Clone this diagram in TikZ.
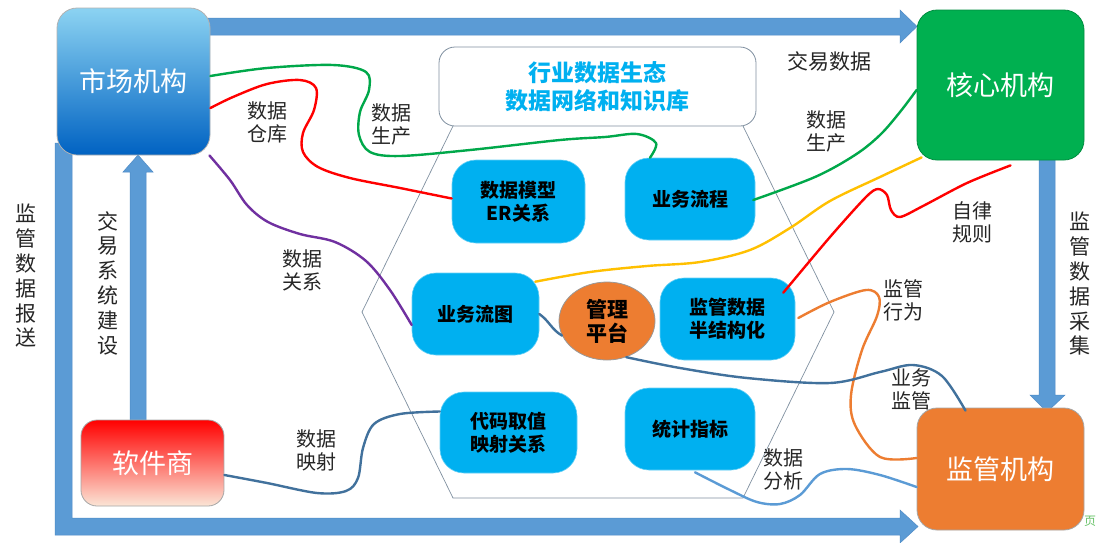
\documentclass[tikz,border=0pt]{standalone}
\usepackage{fontspec}
\setmainfont{Noto Sans CJK SC}
\usetikzlibrary{shapes.geometric,calc}
\definecolor{arrowblue}{HTML}{5B9BD5}
\definecolor{arrowedge}{HTML}{4F8BC6}
\definecolor{cyanfill}{HTML}{00B0F0}
\definecolor{coregreen}{HTML}{00B050}
\definecolor{regorange}{HTML}{ED7D31}
\definecolor{steel}{HTML}{41719C}
\definecolor{lblue}{HTML}{5B9BD5}
\definecolor{ygold}{HTML}{FFC000}
\definecolor{purp}{HTML}{7030A0}
\definecolor{redc}{HTML}{FF0000}
\definecolor{greenc}{HTML}{00A84A}
\definecolor{mktTop}{HTML}{8CD3F2}
\definecolor{mktMid}{HTML}{1CB8E8}
\definecolor{mktBot}{HTML}{0062C2}
\definecolor{softTop}{HTML}{FF0000}
\definecolor{softMid}{HTML}{F8704E}
\definecolor{softBot}{HTML}{FBE5D6}
\definecolor{hexgray}{HTML}{8090A0}
\begin{document}
\begin{tikzpicture}[x=1pt,y=-1pt,
  bigbox/.style={rounded corners=20pt, text=white, font=\fontsize{27}{32}\selectfont,
    inner sep=0pt, draw=gray!60, line width=0.8pt},
  innerbox/.style={rounded corners=24pt, fill=cyanfill, draw=cyanfill!60!white,
    line width=0.6pt, font=\bfseries\fontsize{19}{23}\selectfont, align=center, inner sep=0pt},
  lbl/.style={font=\fontsize{20}{23}\selectfont, align=center, text=black!85},
  vlbl/.style={font=\fontsize{21}{24.8}\selectfont, align=center, text=black!85},
  link/.style={line width=2.4pt, line cap=round},
  fatarrow/.style={fill=arrowblue, draw=arrowedge, line width=0.5pt}]
\useasboundingbox (0,0) rectangle (1096,542);
\fill[white] (0,0) rectangle (1096,542);

% thick blue arrows
\draw[fatarrow] (200,18) -- (900,18) -- (900,10) -- (917,26.5) -- (900,43) -- (900,35) -- (200,35) -- cycle;
\draw[fatarrow] (55,143) -- (72,143) -- (72,518) -- (900,518) -- (900,510) -- (918,526.5) -- (900,543) -- (900,535) -- (55,535) -- cycle;
\draw[fatarrow] (130,425) -- (130,172) -- (123,172) -- (138,155) -- (153,172) -- (146,172) -- (146,425) -- cycle;
\draw[fatarrow] (1039,150) -- (1039,395) -- (1030,395) -- (1047,412) -- (1065,395) -- (1055,395) -- (1055,150) -- cycle;

% hexagon
\draw[hexgray, line width=0.7pt] (453,126) -- (362,312) -- (453,498) -- (743,498) -- (834,312) -- (743,126);

% big nodes
\node[bigbox, minimum width=153pt, minimum height=147pt, top color=mktTop, middle color=mktMid, bottom color=mktBot] (mkt) at (133.5,81.5) {市场机构};
\node[bigbox, minimum width=167pt, minimum height=150pt, fill=coregreen, draw=coregreen!80!black] (core) at (1000.5,85) {核心机构};
\node[bigbox, minimum width=167pt, minimum height=122pt, fill=regorange, draw=gray!70] (reg) at (1000.5,469) {监管机构};
\node[bigbox, rounded corners=16pt, minimum width=143pt, minimum height=86pt, top color=softTop, middle color=softMid, bottom color=softBot, draw=gray!70] (soft) at (152.5,463) {软件商};

% top box
\node[draw=hexgray, line width=0.8pt, fill=white, rounded corners=16pt, minimum width=317pt, minimum height=79pt, inner sep=0pt,
  font=\bfseries\fontsize{23}{28}\selectfont, text=cyanfill, align=center] (eco) at (597.5,86.5) {行业数据生态\\数据网络和知识库};

% inner nodes
\node[innerbox, minimum width=133pt, minimum height=83pt] (model) at (518.5,201.5) {数据模型\\ER关系};
\node[innerbox, minimum width=130pt, minimum height=82pt] (flow) at (690,199) {业务流程};
\node[innerbox, minimum width=127pt, minimum height=82pt] (chart) at (475.5,314) {业务流图};
\node[ellipse, fill=regorange, draw=gray!80, line width=0.8pt, minimum width=96pt, minimum height=78pt, inner sep=0pt,
  font=\bfseries\fontsize{21}{24}\selectfont, align=center] (mgmt) at (607,321) {管理\\平台};
\node[innerbox, minimum width=135pt, minimum height=82pt] (semi) at (727.5,319) {监管数据\\半结构化};
\node[innerbox, minimum width=137pt, minimum height=81pt] (code) at (508.5,432.5) {代码取值\\映射关系};
\node[innerbox, minimum width=130pt, minimum height=82pt] (stats) at (690,429) {统计指标};

% connector end points
\coordinate (g1s) at ([yshift=5.5pt]mkt.east);
\coordinate (g1e) at ([xshift=-40pt]flow.north);
\coordinate (r1s) at ([yshift=-26.5pt]mkt.east);
\coordinate (r1e) at ([yshift=3pt]model.west);
\coordinate (ps) at ([xshift=-1pt]mkt.south east);
\coordinate (pe) at ([yshift=-11pt]chart.west);
\coordinate (g2s) at ([yshift=-5pt]core.west);
\coordinate (g2e) at ([yshift=-1pt,xshift=-2pt]flow.east);
\coordinate (ys) at ([xshift=5pt,yshift=3pt]core.south west);
\coordinate (ye) at ([xshift=-4pt,yshift=-9pt]chart.north east);
\coordinate (r2s) at ([xshift=10pt,yshift=-5pt]core.south);
\coordinate (r2e) at ([xshift=-12pt,yshift=-15pt]semi.north east);
\coordinate (os) at ([xshift=3pt,yshift=1pt]semi.east);
\coordinate (oe) at ([yshift=11pt]reg.west);
\coordinate (bs) at (mgmt.-62);
\coordinate (be) at ([xshift=-35pt,yshift=-3pt]reg.north);
\coordinate (ss) at ([yshift=-12pt]soft.east);
\coordinate (se) at ([yshift=21pt]code.west);
\coordinate (ls) at ([xshift=5pt,yshift=-2pt]stats.south);
\coordinate (le) at ([yshift=-18pt]reg.west);

% curves
\draw[link, greenc] plot[smooth, tension=0.55] coordinates {(g1s) (267,68) (333,65) (366,72) (369,90) (360,112) (359,135) (370,152) (400,156) (470,150) (560,140) (605,137) (637,134) (656,143) (g1e)};
\draw[link, redc] plot[smooth, tension=0.55] coordinates {(r1s) (233,97) (267,84) (300,80) (316,88) (314,110) (303,133) (303,152) (318,167) (350,178) (400,188) (r1e)};
\draw[link, purp] plot[smooth, tension=0.55] coordinates {(ps) (230,180) (247,205) (268,222) (300,234) (335,242) (366,261) (390,290) (pe)};
\draw[link, greenc] plot[smooth, tension=0.55] coordinates {(g2s) (900,112) (880,135) (855,155) (815,177) (g2e)};
\draw[link, ygold] plot[smooth, tension=0.55] coordinates {(ys) (880,177) (830,201) (790,228) (750,250) (700,262) (647,266) (590,272) (ye)};
\draw[link, redc] plot[smooth, tension=0.5] coordinates {(r2s) (967,183) (923,206) (900,217) (891,210) (887,195) (878,189) (866,197) (830,237) (r2e)};
\draw[link, regorange] plot[smooth, tension=0.55] coordinates {(os) (830,302) (866,290) (879,297) (877,316) (862,350) (851,395) (855,425) (880,457) (oe)};
\draw[link, steel] plot[smooth, tension=0.55] coordinates {(bs) (680,368) (747,378) (830,383) (880,372) (913,365) (942,376) (be)};
\draw[link, steel] (chart.east) to[out=-35,in=150] (mgmt.198);
\draw[link, steel] plot[smooth, tension=0.55] coordinates {(ss) (267,483) (317,493) (346,491) (358,478) (363,448) (374,424) (400,414) (se)};
\draw[link, lblue] plot[smooth, tension=0.55] coordinates {(ls) (730,490) (757,502) (780,504) (800,495) (820,474) (847,469) (880,475) (le)};

% labels
\node[lbl] (t1) at (267,122) {数据\\仓库};
\node[lbl] (t2) at (391,124) {数据\\生产};
\node[lbl] (t3) at (826,131) {数据\\生产};
\node[lbl] (t4) at (972,222) {自律\\规则};
\node[lbl] (t5) at (302,270) {数据\\关系};
\node[lbl] (t6) at (316,450) {数据\\映射};
\node[lbl] (t7) at (903,300) {监管\\行为};
\node[lbl] (t8) at (911,389) {业务\\监管};
\node[lbl] (t9) at (783,469) {数据\\分析};
\node[font=\fontsize{21}{24}\selectfont, text=black!85] (t10) at (829,61) {交易数据};
\node[vlbl] (v1) at (26,276) {监\\管\\数\\据\\报\\送};
\node[vlbl] (v2) at (108,283) {交\\易\\系\\统\\建\\设};
\node[vlbl] (v3) at (1080,284) {监\\管\\数\\据\\采\\集};
\node[font=\fontsize{12}{13}\selectfont, text=green!60!black!60, inner sep=0pt] (pg) at (1090,521) {页};
\end{tikzpicture}
\end{document}
